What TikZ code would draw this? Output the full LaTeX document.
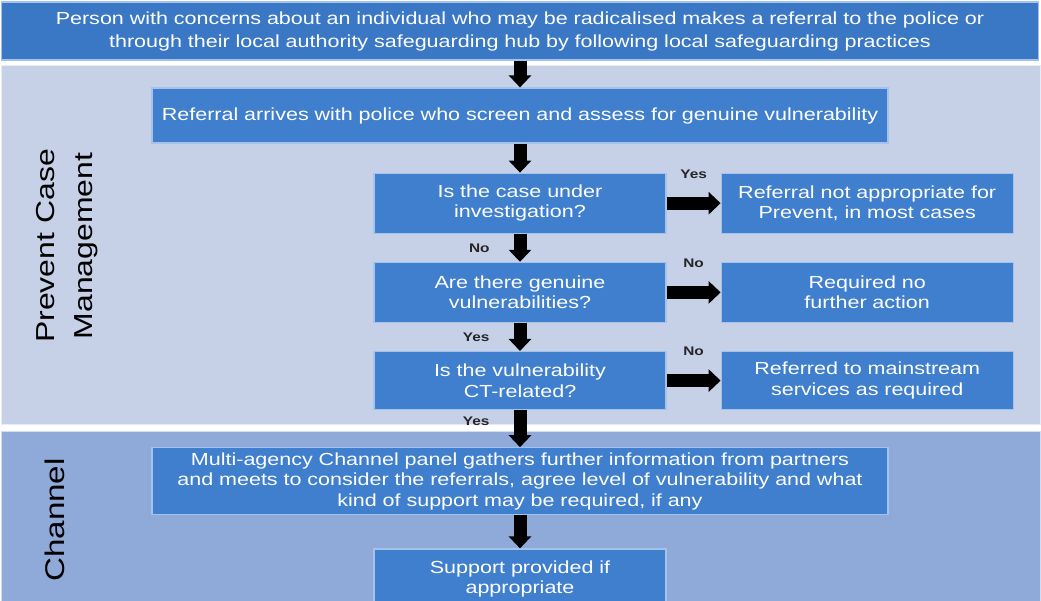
\documentclass[tikz,border=0pt]{standalone}
\usepackage{fontspec}
\setmainfont{Liberation Sans}[FakeStretch=1.23]
\usetikzlibrary{arrows.meta,positioning}
\definecolor{boxblue}{HTML}{3F7FCD}
\definecolor{topblue}{HTML}{3A77C5}
\definecolor{boxedge}{HTML}{A4C2EA}
\definecolor{bandlight}{HTML}{C6D0E7}
\definecolor{banddark}{HTML}{8FA9D9}
\tikzset{
  box/.style={draw=boxedge, line width=1.2pt, fill=boxblue, text=white, align=center,
    font=\fontsize{17.5}{20.5}\selectfont, minimum width=292pt, minimum height=60pt,
    text width=284pt, inner sep=2pt},
  widebox/.style={box, minimum width=736pt, text width=730pt, minimum height=55pt},
  topbox/.style={box, fill=topblue, minimum width=1037pt, text width=1030pt,
    minimum height=58pt, font=\fontsize{17.5}{23}\selectfont},
  flow/.style={line width=13pt, -{Triangle[width=22pt,length=12pt]}},
  lbl/.style={font=\fontsize{12.5}{14}\bfseries\selectfont, text=black!85, inner sep=0pt},
  side/.style={font=\fontsize{26}{38}\selectfont, align=center, rotate=90}
}

\begin{document}
\begin{tikzpicture}[x=1pt, y=1pt, node distance=28pt and 54pt]
  \useasboundingbox (0,0) rectangle (1041,600);
  \fill[white] (0,0) rectangle (1041,600);
  % the two bands
  \draw[fill=bandlight, draw=white!60!bandlight, line width=1pt] (1,175) rectangle (1040,534);
  \draw[fill=banddark, draw=white!60!banddark, line width=1pt] (1,-2) rectangle (1040,168);
  \node[side] (pcm) at (67,354) {Prevent Case\\Management};
  \node[side, font=\fontsize{27}{32}\selectfont] (chl) at (55,80) {Channel};

  \node[topbox] (person) at (520,569) {Person with concerns about an individual who may be radicalised makes a referral to the police or\\through their local authority safeguarding hub by following local safeguarding practices};
  \node[widebox] (referral) at (520,484.5) {Referral arrives with police who screen and assess for genuine vulnerability};
  \node[box, below=29pt of referral] (investigation) {Is the case under\\investigation?};
  \node[box, right=of investigation] (notapp) {Referral not appropriate for\\Prevent, in most cases};
  \node[box, below=of investigation] (genuine) {Are there genuine\\vulnerabilities?};
  \node[box, right=of genuine] (nofurther) {Required no\\further action};
  \node[box, below=of genuine, minimum height=58pt] (ctrelated) {Is the vulnerability\\CT-related?};
  \node[box, right=of ctrelated, minimum height=58pt] (mainstream) {Referred to mainstream\\services as required};
  \node[widebox, below=37pt of ctrelated, minimum height=67pt, inner ysep=0pt] (panel) {Multi-agency Channel panel gathers further information from partners\\and meets to consider the referrals, agree level of vulnerability and what\\kind of support may be required, if any};
  \node[box, below=33pt of panel] (support) {Support provided if\\appropriate};

  \draw[flow] (person.south) -- (referral.north);
  \draw[flow] (referral.south) -- (investigation.north);
  \draw[flow] (investigation) -- node[lbl, above=18pt]{Yes} (notapp);
  \draw[flow] (investigation) -- node[lbl, left=24pt]{No} (genuine);
  \draw[flow] (genuine) -- node[lbl, above=18pt]{No} (nofurther);
  \draw[flow] (genuine) -- node[lbl, left=24pt]{Yes} (ctrelated);
  \draw[flow] (ctrelated) -- node[lbl, above=18pt]{No} (mainstream);
  \draw[flow] (ctrelated) -- node[lbl, left=24pt, pos=0.3]{Yes} (panel);
  \draw[flow] (panel) -- (support);
\end{tikzpicture}
\end{document}
